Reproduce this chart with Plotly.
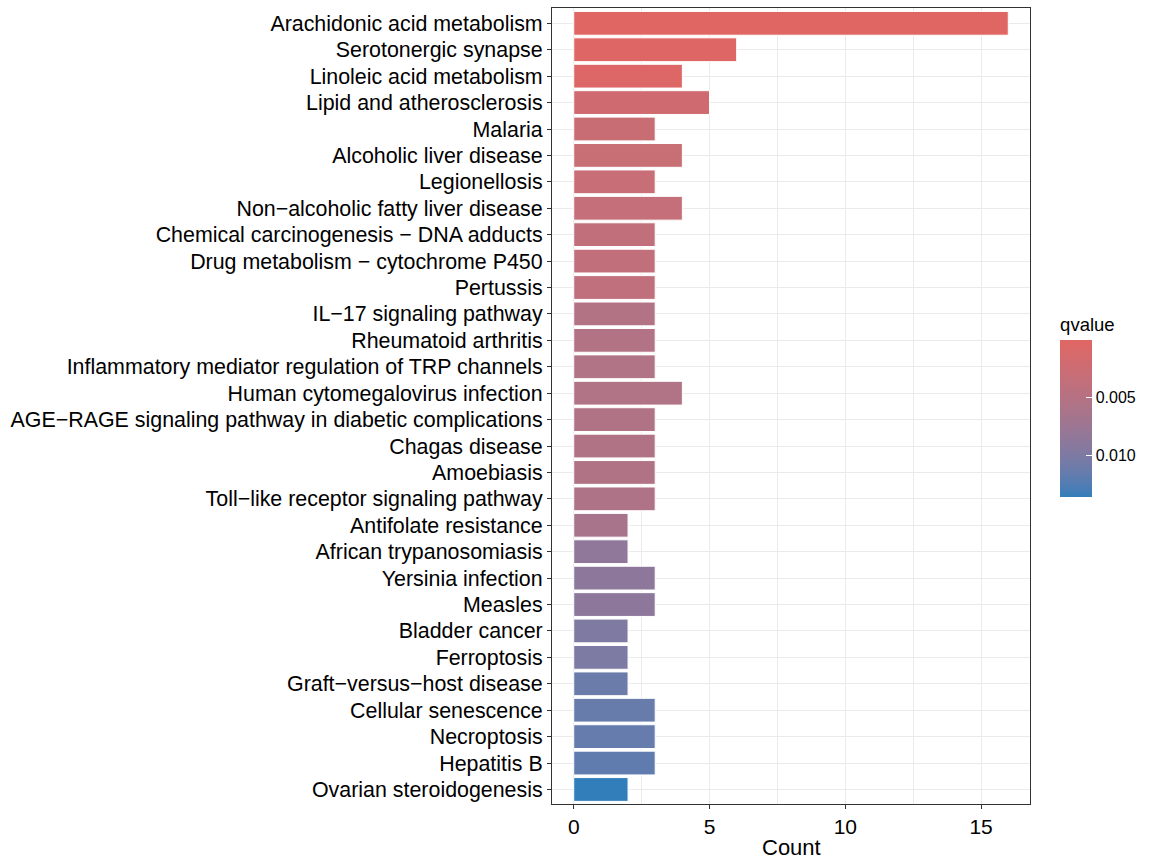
import plotly.graph_objects as go

pathways = [
    "Arachidonic acid metabolism",
    "Serotonergic synapse",
    "Linoleic acid metabolism",
    "Lipid and atherosclerosis",
    "Malaria",
    "Alcoholic liver disease",
    "Legionellosis",
    "Non\u2212alcoholic fatty liver disease",
    "Chemical carcinogenesis \u2212 DNA adducts",
    "Drug metabolism \u2212 cytochrome P450",
    "Pertussis",
    "IL\u221217 signaling pathway",
    "Rheumatoid arthritis",
    "Inflammatory mediator regulation of TRP channels",
    "Human cytomegalovirus infection",
    "AGE\u2212RAGE signaling pathway in diabetic complications",
    "Chagas disease",
    "Amoebiasis",
    "Toll\u2212like receptor signaling pathway",
    "Antifolate resistance",
    "African trypanosomiasis",
    "Yersinia infection",
    "Measles",
    "Bladder cancer",
    "Ferroptosis",
    "Graft\u2212versus\u2212host disease",
    "Cellular senescence",
    "Necroptosis",
    "Hepatitis B",
    "Ovarian steroidogenesis",
]
counts = [16, 6, 4, 5, 3, 4, 3, 4, 3, 3, 3, 3, 3, 3, 4, 3, 3, 3, 3, 2, 2, 3, 3, 2, 2, 2, 3, 3, 3, 2]
qvalues = [0.00001, 0.0003, 0.0005, 0.0020, 0.0028, 0.0029, 0.0031, 0.0034, 0.0037, 0.0038,
           0.0039, 0.0053, 0.0053, 0.0054, 0.0054, 0.0055, 0.0055, 0.0055, 0.0056, 0.0064,
           0.0086, 0.0088, 0.0088, 0.0099, 0.0100, 0.0112, 0.0114, 0.0115, 0.0118, 0.0136]
x_ticks = [0, 5, 10, 15]
q_ticks = [0.005, 0.010]

low_color = "#e06663"
high_color = "#327eba"


# --- Lab interpolation (like ggplot's gradient) ---
def hex_to_rgb(h):
    h = h.lstrip("#")
    return [int(h[i:i + 2], 16) / 255 for i in (0, 2, 4)]


def srgb_to_lin(c):
    return c / 12.92 if c <= 0.04045 else ((c + 0.055) / 1.055) ** 2.4


def lin_to_srgb(c):
    c = max(0.0, min(1.0, c))
    return 12.92 * c if c <= 0.0031308 else 1.055 * c ** (1 / 2.4) - 0.055


WHITE = (0.95047, 1.0, 1.08883)


def rgb_to_lab(rgb):
    r, g, b = [srgb_to_lin(c) for c in rgb]
    x = 0.4124 * r + 0.3576 * g + 0.1805 * b
    y = 0.2126 * r + 0.7152 * g + 0.0722 * b
    z = 0.0193 * r + 0.1192 * g + 0.9505 * b

    def f(t):
        return t ** (1 / 3) if t > 0.008856 else 7.787 * t + 16 / 116

    fx, fy, fz = f(x / WHITE[0]), f(y / WHITE[1]), f(z / WHITE[2])
    return (116 * fy - 16, 500 * (fx - fy), 200 * (fy - fz))


def lab_to_rgb(lab):
    L, a, b = lab
    fy = (L + 16) / 116
    fx = fy + a / 500
    fz = fy - b / 200

    def finv(t):
        return t ** 3 if t ** 3 > 0.008856 else (t - 16 / 116) / 7.787

    x, y, z = finv(fx) * WHITE[0], finv(fy) * WHITE[1], finv(fz) * WHITE[2]
    r = 3.2406 * x - 1.5372 * y - 0.4986 * z
    g = -0.9689 * x + 1.8758 * y + 0.0415 * z
    bb = 0.0557 * x - 0.2040 * y + 1.0570 * z
    return [round(lin_to_srgb(c) * 255) for c in (r, g, bb)]


lab_hi = rgb_to_lab(hex_to_rgb(high_color))
lab_lo = rgb_to_lab(hex_to_rgb(low_color))
n_stops = 21
colorscale = []
for i in range(n_stops):
    t = i / (n_stops - 1)
    lab = tuple(lab_hi[k] + (lab_lo[k] - lab_hi[k]) * t for k in range(3))
    r, g, b = lab_to_rgb(lab)
    colorscale.append([t, f"rgb({r},{g},{b})"])

neg_q = [-q for q in qvalues]
qmin, qmax = min(qvalues), max(qvalues)

FONT = "Liberation Sans, Arial, sans-serif"
TOP, BOTTOM = 8, 55
plot_h = 859 - TOP - BOTTOM

fig = go.Figure()
fig.add_trace(go.Bar(
    x=counts,
    y=pathways,
    orientation="h",
    width=0.9,
    marker=dict(
        color=neg_q,
        colorscale=colorscale,
        cmin=-qmax,
        cmax=-qmin,
        line=dict(color="white", width=1),
        colorbar=dict(
            title=dict(text="qvalue", side="top",
                       font=dict(family=FONT, size=18.5, color="black")),
            thickness=32,
            len=183,
            lenmode="pixels",
            x=1.063,
            xanchor="left",
            xpad=0,
            y=(859 - BOTTOM - 497) / plot_h,
            yanchor="bottom",
            ypad=0,
            outlinewidth=0,
            tickvals=[-t for t in q_ticks],
            ticktext=[f"{t:.3f}" for t in q_ticks],
            ticks="inside",
            ticklen=6,
            tickcolor="white",
            tickwidth=1,
            tickfont=dict(family=FONT, size=16, color="black"),
        ),
    ),
    hoverinfo="x+y",
))

fig.update_layout(
    width=1150,
    height=859,
    margin=dict(l=552, r=120, t=TOP, b=BOTTOM),
    plot_bgcolor="white",
    paper_bgcolor="white",
    showlegend=False,
    bargap=0.1,
    font=dict(family=FONT, color="black"),
    annotations=[dict(
        text="Count", xref="paper", yref="paper", x=0.5, y=-(847 - (859 - BOTTOM)) / plot_h,
        xanchor="center", yanchor="middle", showarrow=False,
        font=dict(family=FONT, size=22, color="black"),
    )],
)
fig.update_xaxes(
    range=[-0.8, 16.8],
    tickvals=x_ticks,
    ticks="outside",
    ticklen=4,
    tickcolor="#333333",
    tickfont=dict(size=21, color="black"),
    showgrid=True,
    gridcolor="#EBEBEB",
    gridwidth=1.1,
    minor=dict(tickvals=[2.5, 7.5, 12.5], showgrid=True, gridcolor="#EBEBEB", gridwidth=0.6),
    zeroline=False,
    showline=True,
    linecolor="#333333",
    linewidth=1.1,
    mirror=True,
    automargin=False,
)
fig.update_yaxes(
    type="category",
    categoryorder="array",
    categoryarray=pathways,
    range=[len(pathways) - 0.45, -0.58],
    ticks="outside",
    ticklen=4,
    tickcolor="#333333",
    tickfont=dict(size=21.4, color="black"),
    ticklabelstandoff=0,
    showgrid=True,
    gridcolor="#EBEBEB",
    gridwidth=1.1,
    zeroline=False,
    showline=True,
    linecolor="#333333",
    linewidth=1.1,
    mirror=True,
    automargin=False,
)

fig.write_html("out.html", config={"displayModeBar": False},
               post_script="document.body.style.margin='0';")
